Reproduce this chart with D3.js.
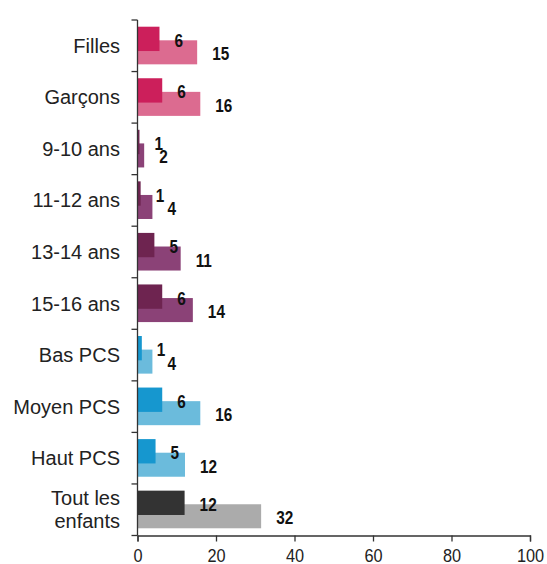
<!DOCTYPE html>
<html>
<head>
<meta charset="utf-8">
<script src="https://cdn.jsdelivr.net/npm/d3@7"></script>
<style>
  html, body { margin: 0; padding: 0; background: #fff; }
  svg { display: block; font-family: "Liberation Sans", Arial, sans-serif; }
</style>
</head>
<body>
<svg id="chart" width="547" height="564"></svg>
<script>
// ---- data ----
const categories = ["Filles", "Garçons", "9-10 ans", "11-12 ans", "13-14 ans", "15-16 ans",
                    "Bas PCS", "Moyen PCS", "Haut PCS", "Tout les\nenfants"];
const seriesA = [5.6, 6.3, 0.5, 0.8, 4.3, 6.3, 1.1, 6.3, 4.6, 12.0];   // darker, upper bars
const seriesB = [15.2, 16.0, 1.7, 3.8, 11.0, 14.1, 3.8, 16.0, 12.1, 31.5]; // lighter, lower bars
const labelsA = ["6", "6", "1", "1", "5", "6", "1", "6", "5", "12"];
const labelsB = ["15", "16", "2", "4", "11", "14", "4", "16", "12", "32"];
const groups = ["sex", "sex", "age", "age", "age", "age", "pcs", "pcs", "pcs", "all"];
const xTicks = [0, 20, 40, 60, 80, 100];

const darkColors = { sex: "#cc1f5b", age: "#6e2450", pcs: "#1697cf", all: "#333333" };
const lightColors = { sex: "#dc6b90", age: "#8b4277", pcs: "#6bbbdc", all: "#ababab" };

// ---- layout ----
const svg = d3.select("#chart");
const mLeft = 137.5, mRight = 530, mTop = 20, mBottom = 535.5;

const x = d3.scaleLinear().domain([0, 100]).range([mLeft, mRight]);
const y = d3.scaleBand().domain(categories).range([mTop, mBottom]).paddingInner(0).paddingOuter(0);
const bw = y.bandwidth();

// bars B (lighter, behind)
svg.append("g").selectAll("rect")
  .data(categories)
  .join("rect")
  .attr("x", x(0))
  .attr("y", d => y(d) + bw * 0.394)
  .attr("width", (d, i) => x(seriesB[i]) - x(0))
  .attr("height", bw * 0.466)
  .attr("fill", (d, i) => lightColors[groups[i]]);

// bars A (darker, in front)
svg.append("g").selectAll("rect")
  .data(categories)
  .join("rect")
  .attr("x", x(0))
  .attr("y", d => y(d) + bw * 0.13)
  .attr("width", (d, i) => x(seriesA[i]) - x(0))
  .attr("height", bw * 0.472)
  .attr("fill", (d, i) => darkColors[groups[i]]);

// value labels (slightly tall glyphs, as in the reference)
const lab = svg.append("g")
  .attr("font-size", 16).attr("font-weight", "bold").attr("fill", "#111");
lab.selectAll("text.a")
  .data(categories)
  .join("text").attr("class", "a")
  .attr("transform", (d, i) => `translate(${x(seriesA[i]) + 15},${y(d) + bw * 0.13 + bw * 0.236 + 8}) scale(0.96,1.1)`)
  .text((d, i) => labelsA[i]);
lab.selectAll("text.b")
  .data(categories)
  .join("text").attr("class", "b")
  .attr("transform", (d, i) => `translate(${x(seriesB[i]) + 15},${y(d) + bw * 0.394 + bw * 0.233 + 8}) scale(0.96,1.1)`)
  .text((d, i) => labelsB[i]);

// x axis
const xAxis = d3.axisBottom(x).tickValues(xTicks).tickSize(6).tickSizeOuter(6).tickPadding(7);
const gx = svg.append("g").attr("transform", `translate(0,${mBottom})`).call(xAxis);
gx.select(".domain").attr("stroke", "#333").attr("stroke-width", 1.3);
gx.selectAll(".tick line").attr("stroke", "#333").attr("stroke-width", 1.3);
gx.selectAll(".tick text")
  .attr("font-size", 17).attr("fill", "#222")
  .attr("font-family", "Liberation Sans, Arial, sans-serif")
  .attr("y", 0).attr("dy", null)
  .attr("transform", "translate(0,26) scale(0.96,1.12)");

// y axis line with ticks at band boundaries
const gy = svg.append("g");
gy.append("line").attr("x1", mLeft).attr("x2", mLeft).attr("y1", mTop).attr("y2", mBottom)
  .attr("stroke", "#333").attr("stroke-width", 1.3);
const boundaries = categories.map(d => y(d)).concat([mBottom]);
gy.selectAll("line.t").data(boundaries).join("line").attr("class", "t")
  .attr("x1", mLeft - 6).attr("x2", mLeft).attr("y1", d => d).attr("y2", d => d)
  .attr("stroke", "#333").attr("stroke-width", 1.3);

// category labels
const cat = svg.append("g").attr("font-size", 20).attr("fill", "#222").attr("text-anchor", "end");
categories.forEach(c => {
  const lines = c.split("\n");
  const cy = y(c) + bw / 2;
  const lh = 23;
  lines.forEach((ln, k) => {
    cat.append("text")
      .attr("x", 120)
      .attr("y", cy + (k - (lines.length - 1) / 2) * lh + 7)
      .text(ln);
  });
});
</script>
</body>
</html>
